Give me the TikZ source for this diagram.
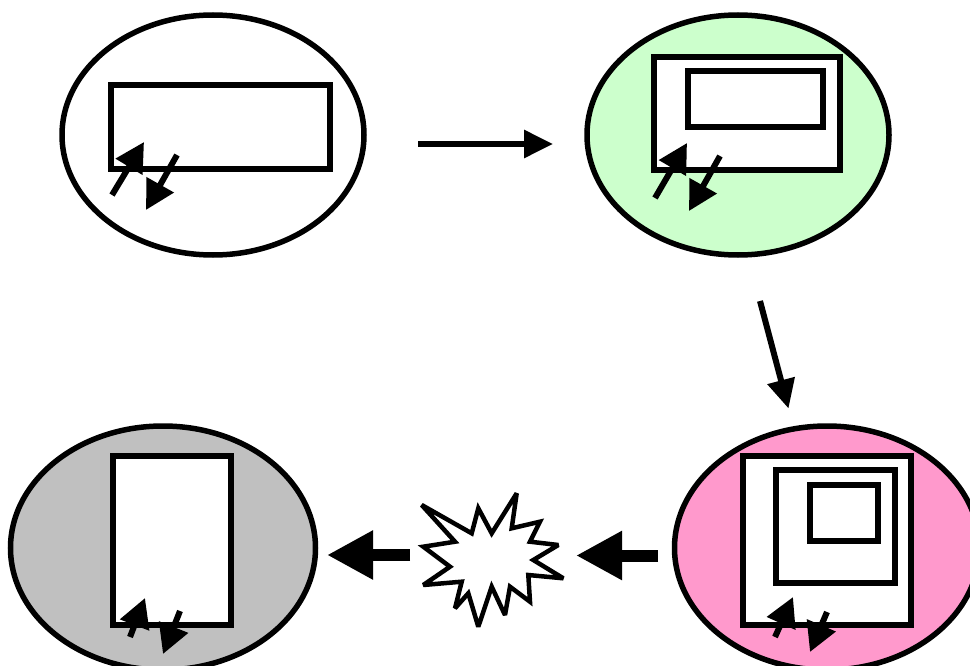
\documentclass[tikz,border=0pt]{standalone}
\usetikzlibrary{arrows.meta,shapes.geometric}
\definecolor{ovalgreen}{RGB}{204,255,204}
\definecolor{ovalgray}{RGB}{192,192,192}
\definecolor{ovalpink}{RGB}{255,153,204}
\begin{document}
\begin{tikzpicture}[x=1pt,y=-1pt,
  oval/.style={ellipse, draw, line width=5.5pt, minimum width=302pt, minimum height=240pt, inner sep=0pt},
  box/.style={draw, line width=6pt, fill=white},
  pairarrow/.style={line width=6pt, -{Triangle[width=30pt,length=29pt]}},
  flowarrow/.style={line width=6pt, -{Triangle[width=27pt,length=29pt]}},
  fatarrow/.style={line width=12pt, -{Triangle[width=46pt,length=46pt]}}
]
\useasboundingbox (0,0) rectangle (970,666);

% ellipses
\node[oval, fill=white] (e1) at (213,135) {};
\node[oval, fill=ovalgreen] (e2) at (738,135) {};
\node[oval, fill=ovalgray, minimum width=305pt, minimum height=244pt] (e3) at (163,548) {};
\node[oval, fill=ovalpink, minimum width=305pt, minimum height=244pt] (e4) at (827,548) {};

% rectangles
\draw[box] (111,85) rectangle (330,169);

\draw[box] (654,57.5) rectangle (839.5,170.5);
\draw[box] (687.5,71.5) rectangle (822.5,127.5);

\draw[box] (112.5,455.5) rectangle (230.5,624.5);

\draw[box] (742.5,455.5) rectangle (910.5,624.5);
\draw[box] (775.5,469.5) rectangle (894.5,582.5);
\draw[box] (809.5,484.5) rectangle (877.5,540.5);

% small double arrows
\coordinate (u1s) at (112,195); \coordinate (u1e) at (144,142);
\coordinate (d1s) at (177,155); \coordinate (d1e) at (146,210);
\draw[pairarrow] (u1s) -- (u1e);
\draw[pairarrow] (d1s) -- (d1e);

\coordinate (u2s) at (655,198); \coordinate (u2e) at (687,143);
\coordinate (d2s) at (720,156); \coordinate (d2e) at (689,211);
\draw[pairarrow] (u2s) -- (u2e);
\draw[pairarrow] (d2s) -- (d2e);

\coordinate (u3s) at (130,637); \coordinate (u3e) at (145,598);
\coordinate (d3s) at (180,611); \coordinate (d3e) at (163,654);
\draw[pairarrow] (u3s) -- (u3e);
\draw[pairarrow] (d3s) -- (d3e);

\coordinate (u4s) at (775,637); \coordinate (u4e) at (793,597);
\coordinate (d4s) at (827,612); \coordinate (d4e) at (810,652);
\draw[pairarrow] (u4s) -- (u4e);
\draw[pairarrow] (d4s) -- (d4e);

% flow arrows
\coordinate (f1s) at (418,144); \coordinate (f1e) at (553,144);
\draw[flowarrow] (f1s) -- (f1e);
\coordinate (f2s) at (760,301); \coordinate (f2e) at (788.5,408.5);
\draw[flowarrow] (f2s) -- (f2e);
\coordinate (f3s) at (658,555.5); \coordinate (f3e) at (576,555.5);
\draw[fatarrow] (f3s) -- (f3e);
\coordinate (f4s) at (410,555); \coordinate (f4e) at (327,555);
\draw[fatarrow] (f4s) -- (f4e);

% explosion
\draw[line width=4.5pt, fill=white, line join=miter, miter limit=3]
  (421.7,505) -- (471.7,533.3) -- (478.3,508.3) -- (491.7,533.3) --
  (516.7,493.3) -- (511.7,528.3) -- (540,521.7) -- (530,541.7) --
  (558.3,545) -- (533.3,560) -- (563.3,578.3) -- (528.3,575) --
  (530,601.7) -- (510,586.7) -- (505,615) -- (491.7,586.7) --
  (478.3,626.7) -- (468.3,593.3) -- (455,608.3) -- (461.7,581.7) --
  (423.3,585) -- (450,566.7) -- (423.3,546.7) -- (455,541.7) -- cycle;
\end{tikzpicture}
\end{document}
